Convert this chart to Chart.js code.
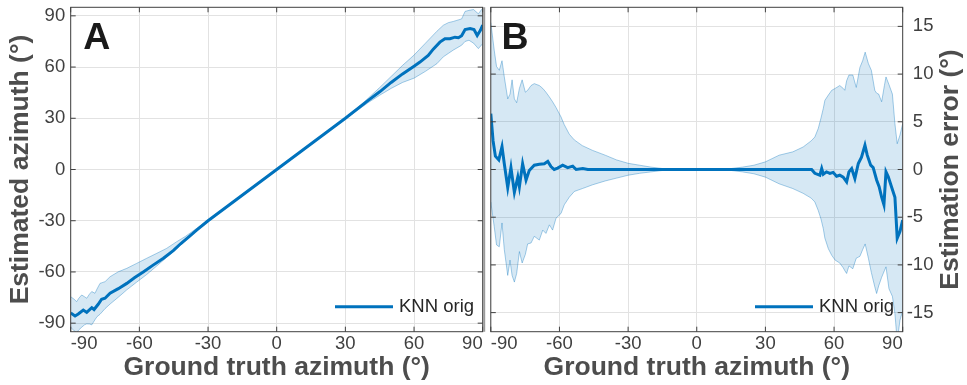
<!DOCTYPE html>
<html>
<head>
<meta charset="utf-8">
<script src="https://cdn.jsdelivr.net/npm/chart.js@4.4.0/dist/chart.umd.min.js"></script>
<style>
  html, body { margin: 0; padding: 0; background: #fff; }
  #wrap { position: relative; width: 967px; height: 385px; overflow: hidden; }
  canvas { position: absolute; left: 0; top: 0; }
</style>
</head>
<body>
<div id="wrap">
  <canvas id="chartA" width="967" height="385"></canvas>
  <canvas id="chartB" width="967" height="385"></canvas>
</div>
<script>
// tick values
const xTicks = [-90, -60, -30, 0, 30, 60, 90];
const yTicksA = [-90, -60, -30, 0, 30, 60, 90];
const yTicksB = [-15, -10, -5, 0, 5, 10, 15];

// panel A: estimated azimuth (mean and spread band)
const xMeanA = [-90, -88.1, -86.7, -84.5, -83, -80.8, -79.8, -77.9, -76.5, -75,
  -72.8, -69.2, -65.5, -62, -58.3, -54, -49.5, -45.2, -42, -38,
  -35, -30, 0, 30, 40, 45, 50, 55, 60, 62.6,
  66.2, 68.4, 71.3, 73.5, 75.7, 77.9, 79.4, 80.8, 82.3, 84.5,
  86.2, 87.6, 89, 90];
const meanA = [-84, -85.8, -84.6, -82.3, -83.7, -80.9, -82, -78.8, -76, -75.4,
  -72.5, -69.8, -66.7, -63.3, -60, -56, -52, -47.5, -43.5, -39,
  -35.5, -30, 0, 30, 40.5, 45.5, 51, 56, 60.5, 62.9,
  66.8, 70.5, 74.6, 76.6, 76.6, 77.5, 77.2, 78.4, 82, 82.5,
  82, 78.5, 81.5, 84.5];
const bandXA = [-90, -88.5, -87.4, -86.5, -85.2, -84, -83, -81.8, -80.8, -79.4,
  -78.5, -77.2, -75, -72.8, -69.2, -65.5, -61.2, -56.8, -52.4, -48.1,
  -43.7, -40, -35, -30, 0, 30, 35, 40, 45, 50,
  55, 60, 65, 70, 72.8, 75, 77.1, 80.8, 82.3, 84,
  86, 88.1, 90];
const upperA = [-74.5, -76, -77.4, -75.5, -73.5, -74.5, -75.4, -73, -71.5, -72.5,
  -70, -66.7, -65.7, -62.8, -59.9, -57.9, -55, -52, -49.1, -46.2,
  -42.3, -39.3, -34.5, -29.7, 0.2, 30.3, 35.8, 41.8, 48, 54.5,
  61, 67, 74, 81, 84.5, 86, 86.7, 88.2, 92.6, 93.2,
  93.7, 91.2, 94.5];
const lowerA = [-92.4, -94.5, -95.5, -94, -92.4, -91, -90.4, -90.5, -91, -88,
  -86.2, -84.8, -81.5, -78.8, -74.8, -70.5, -66, -61.5, -56.5, -51.5,
  -46.5, -41.5, -35.8, -30.3, -0.2, 29.7, 34.4, 39.2, 43.5, 47.5,
  51, 53.5, 57.5, 62, 66, 68, 69.9, 72.8, 75, 75.7,
  74, 70.8, 73.7];

// panel B: estimation error (mean and spread band)
const xMeanB = [-90, -89, -88, -86.5, -85.1, -84.1, -82.6, -81.2, -79.7, -78.2,
  -77.5, -76.1, -74.6, -73.2, -71, -68.8, -66.6, -65.1, -63.7, -62.3,
  -60.8, -58.6, -56.4, -54.2, -52.7, -49.8, -47.6, 50.2, 51.6, 53.8,
  54.6, 55.3, 56.7, 58.2, 59.6, 61.1, 62.5, 64, 65.5, 66.5,
  67.7, 69.1, 70.6, 72, 73.5, 74.5, 76, 77.1, 78.6, 79.7,
  80.8, 81.8, 82.7, 83.7, 85.1, 86.6, 87.6, 88.8, 90];
const meanB = [5.86, 3.0, 1.4, 1.0, 2.4, 0.6, -1.9, 0.2, -2.4, -0.8,
  -1.8, 0.6, -1.1, -0.1, 0.45, 0.55, 0.6, 0.85, 0.3, 0.0,
  0.15, 0.45, 0.2, 0.35, 0.0, 0.1, 0, 0, -0.4, -0.6,
  0.1, -0.5, -0.25, -0.4, -0.3, -0.7, -0.6, -0.8, -1.3, -0.25,
  0.1, -0.95, 0.63, 1.3, 2.54, 1.5, 0.45, 0.2, -1.1, -1.8,
  -2.9, -3.7, -0.25, -0.77, -1.8, -2.9, -7.2, -6.5, -5.3];
const bandXB = [-90, -88.5, -87.5, -86.3, -85.1, -84.1, -82.6, -81.6, -80.7, -79.7,
  -78.7, -77.5, -76.3, -74.9, -73.9, -72.4, -71, -68.8, -67.3, -65.9,
  -64.4, -63, -61.5, -59.3, -57.9, -55.7, -53.5, -50, -45.5, -40,
  -35, -30, -25, -20, -15, -10, 0, 10, 15, 20,
  25, 30, 36, 42, 46.5, 50, 51.6, 53.1, 54.3, 55.3,
  56, 57.5, 59, 60.5, 62.5, 64, 64.7, 65.5, 66.5, 68.2,
  69.7, 71.3, 72.5, 73.6, 75, 76.3, 77.8, 78.6, 79.5, 80.8,
  82, 82.7, 84, 85.5, 86.6, 87.6, 88.8, 90];
const upperB = [15.4, 12.5, 10.8, 10.4, 11.4, 9.7, 7.4, 7.9, 9.4, 7.4,
  7.0, 8.5, 9.4, 8.1, 8.3, 8.8, 9.0, 8.8, 8.5, 8.1,
  7.6, 7.1, 6.5, 5.5, 4.7, 3.7, 3.1, 2.5, 2.0, 1.5,
  1.0, 0.65, 0.45, 0.25, 0.1, 0.03, 0, 0.03, 0.1, 0.25,
  0.45, 0.8, 1.5, 1.85, 2.36, 3.0, 3.4, 4.3, 5.4, 6.4,
  7.25, 7.8, 8.3, 8.5, 8.8, 8.5, 8.3, 9.3, 9.9, 9.9,
  8.6, 10.7, 11.4, 12.3, 11.1, 10.4, 8.3, 8.0, 7.9, 7.1,
  8.8, 9.7, 8.9, 7.9, 4.8, 2.7, 3.6, 4.8];
const lowerB = [-3.4, -6.0, -7.9, -8.1, -5.6, -8.4, -11.1, -9.5, -11.1, -11.8,
  -10.9, -8.6, -9.8, -8.9, -7.8, -7.7, -7.0, -7.4, -6.35, -6.7,
  -5.8, -6.35, -5.1, -4.6, -3.7, -2.9, -2.3, -2.0, -1.6, -1.2,
  -0.9, -0.6, -0.4, -0.25, -0.1, -0.03, 0, -0.03, -0.1, -0.25,
  -0.45, -0.8, -1.5, -2.0, -2.5, -3.0, -3.4, -4.3, -5.2, -6.2,
  -7.2, -8.3, -9.0, -9.5, -9.8, -10.3, -10.6, -10.9, -10.1, -10.4,
  -9.3, -9.1, -8.4, -7.8, -9.3, -10.8, -12.3, -13.0, -12.2, -11.3,
  -10.6, -10.2, -12.5, -13.3, -15.1, -18, -15.8, -14.8];

const seriesName = 'KNN orig';

const FONT = "'Liberation Sans', Arial, Helvetica, sans-serif";
const lineColor = '#0072bd';
const bandFill = 'rgba(0, 114, 189, 0.16)';
const bandEdge = 'rgba(0, 114, 189, 0.45)';
const gridColor = '#e2e2e2';
const tickColor = '#404040';
const titleColor = '#4d4d4d';

Chart.defaults.font.family = FONT;

function pts(xs, ys) {
  return xs.map((x, i) => ({x: x, y: ys[i]}));
}

function makeDatasets(xm, m, xb, up, lo) {
  return [
    {label: seriesName, data: pts(xm, m), borderColor: lineColor, borderWidth: 3,
      pointRadius: 0, fill: false, tension: 0},
    {label: 'upper', data: pts(xb, up), borderColor: bandEdge, borderWidth: 0.8,
      pointRadius: 0, fill: false, tension: 0},
    {label: 'lower', data: pts(xb, lo), borderColor: bandEdge, borderWidth: 0.8,
      pointRadius: 0, fill: '-1', backgroundColor: bandFill, tension: 0}
  ];
}

function xAxis() {
  return {
    type: 'linear', min: -90, max: 90,
    afterBuildTicks: s => { s.ticks = xTicks.map(v => ({value: v})); },
    afterFit: s => { s.height = 53.3; s.paddingLeft = 0; s.paddingRight = 0; },
    grid: {color: gridColor, drawTicks: false},
    border: {display: false},
    ticks: {align: 'inner', padding: 1, color: tickColor, font: {size: 18.5},
      maxRotation: 0, autoSkip: false, callback: v => String(v)},
    title: {display: true, text: 'Ground truth azimuth (°)', color: titleColor,
      font: {size: 26.5, weight: 'bold'}, padding: {top: 0, bottom: 1.4}}
  };
}

// box, inward ticks, panel letter, legend and (for B) the right-side title
const frame = {
  id: 'frame',
  afterDraw(chart, args, o) {
    const {ctx, chartArea: a, scales} = chart;
    const xs = scales.x, ys = scales.y;
    ctx.save();
    ctx.strokeStyle = '#404040';
    ctx.lineWidth = 1;
    ctx.strokeRect(a.left, a.top, a.right - a.left, a.bottom - a.top);
    ctx.beginPath();
    xs.ticks.forEach(t => {
      const p = xs.getPixelForValue(t.value);
      ctx.moveTo(p, a.bottom); ctx.lineTo(p, a.bottom - 5);
      ctx.moveTo(p, a.top); ctx.lineTo(p, a.top + 5);
    });
    ys.ticks.forEach(t => {
      const p = ys.getPixelForValue(t.value);
      ctx.moveTo(a.left, p); ctx.lineTo(a.left + 5, p);
      ctx.moveTo(a.right, p); ctx.lineTo(a.right - 5, p);
    });
    ctx.stroke();
    if (o.grayEdge) {
      ctx.strokeStyle = '#9a9a9a';
      ctx.lineWidth = 2;
      ctx.beginPath();
      ctx.moveTo(a.right + 1.5, a.top);
      ctx.lineTo(a.right + 1.5, a.bottom);
      ctx.stroke();
    }

    ctx.fillStyle = '#1a1a1a';
    ctx.font = 'bold 37.5px ' + FONT;
    ctx.textBaseline = 'alphabetic';
    ctx.textAlign = 'left';
    ctx.fillText(o.letter, o.letterX, o.letterY);

    ctx.strokeStyle = lineColor;
    ctx.lineWidth = 3;
    ctx.beginPath();
    ctx.moveTo(o.legX, o.legY);
    ctx.lineTo(o.legX + 58, o.legY);
    ctx.stroke();
    ctx.fillStyle = '#262626';
    ctx.font = '18.5px ' + FONT;
    ctx.fillText(chart.data.datasets[0].label, o.legX + 64, o.legY + 4.8);

    if (o.sideTitle) {
      ctx.translate(o.sideX, (a.top + a.bottom) / 2);
      ctx.rotate(-Math.PI / 2);
      ctx.textAlign = 'center';
      ctx.fillStyle = titleColor;
      ctx.font = 'bold 26.5px ' + FONT;
      ctx.fillText(o.sideTitle, 0, 0);
    }
    ctx.restore();
  }
};

new Chart(document.getElementById('chartA'), {
  type: 'line',
  data: {datasets: makeDatasets(xMeanA, meanA, bandXA, upperA, lowerA)},
  options: {
    responsive: false,
    animation: false,
    layout: {padding: {left: 0, top: 7.3, right: 484.3, bottom: 0}},
    scales: {
      x: xAxis(),
      y: {
        type: 'linear', position: 'left', min: -95, max: 95,
        afterBuildTicks: s => { s.ticks = yTicksA.map(v => ({value: v})); },
        afterFit: s => { s.width = 70.7; s.paddingTop = 0; s.paddingBottom = 0; },
        grid: {color: gridColor, drawTicks: false},
        border: {display: false},
        ticks: {padding: 5.5, color: tickColor, font: {size: 18.5}, autoSkip: false,
          callback: v => String(v)},
        title: {display: true, text: 'Estimated azimuth (°)', color: titleColor,
          font: {size: 26.5, weight: 'bold'}, padding: {top: 5, bottom: 0}}
      }
    },
    plugins: {
      legend: {display: false},
      tooltip: {enabled: false},
      frame: {letter: 'A', letterX: 83.3, letterY: 48.5, legX: 335, legY: 306.7, grayEdge: true}
    }
  },
  plugins: [frame]
});

new Chart(document.getElementById('chartB'), {
  type: 'line',
  data: {datasets: makeDatasets(xMeanB, meanB, bandXB, upperB, lowerB)},
  options: {
    responsive: false,
    animation: false,
    layout: {padding: {left: 490.8, top: 7.3, right: 0, bottom: 0}},
    scales: {
      x: xAxis(),
      y: {
        type: 'linear', position: 'right', min: -17, max: 17,
        afterBuildTicks: s => { s.ticks = yTicksB.map(v => ({value: v})); },
        afterFit: s => { s.width = 64.3; s.paddingTop = 0; s.paddingBottom = 0; },
        grid: {color: gridColor, drawTicks: false},
        border: {display: false},
        ticks: {padding: 4, color: tickColor, font: {size: 18.5}, autoSkip: false,
          callback: v => (v < 0 ? String(v) : '\u2004' + v)},
        title: {display: false}
      }
    },
    plugins: {
      legend: {display: false},
      tooltip: {enabled: false},
      frame: {letter: 'B', letterX: 501.5, letterY: 48.5, legX: 755, legY: 306.7,
        sideTitle: 'Estimation error (°)', sideX: 958}
    }
  },
  plugins: [frame]
});
</script>
</body>
</html>
